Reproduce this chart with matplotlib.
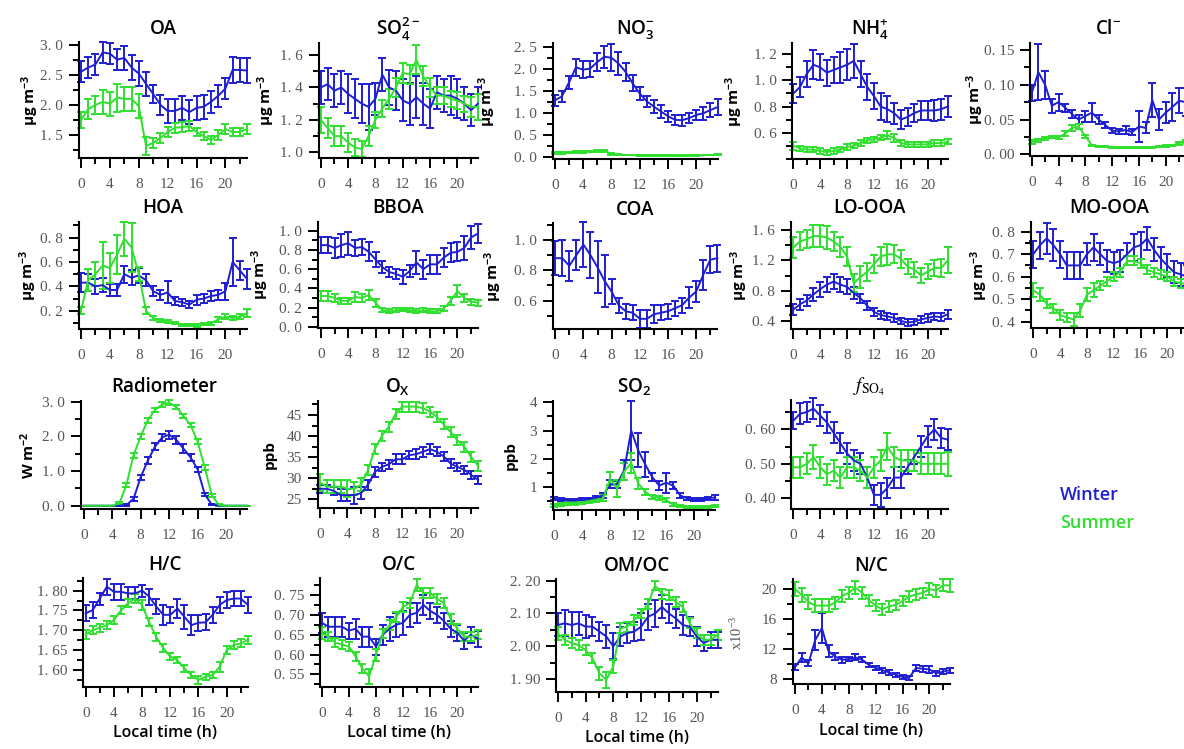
import matplotlib
matplotlib.use('Agg')
import matplotlib.pyplot as plt
from matplotlib.ticker import FixedLocator, AutoMinorLocator, FuncFormatter

hours = list(range(24))

# ---------------- data ----------------
OA_w = [2.55,2.62,2.67,2.87,2.85,2.75,2.78,2.62,2.52,2.35,2.18,2.0,1.9,1.9,1.95,1.88,1.95,1.97,2.05,2.15,2.27,2.58,2.58,2.57]
OA_w_err = [0.17,0.17,0.17,0.17,0.17,0.17,0.2,0.2,0.2,0.2,0.15,0.17,0.2,0.2,0.2,0.2,0.2,0.2,0.18,0.18,0.18,0.22,0.2,0.2]
OA_s = [1.75,1.93,2.0,2.05,2.02,2.12,2.1,2.1,1.98,1.32,1.37,1.45,1.55,1.62,1.63,1.65,1.55,1.48,1.42,1.5,1.6,1.55,1.55,1.6]
OA_s_err = [0.13,0.17,0.15,0.2,0.2,0.23,0.2,0.2,0.2,0.15,0.08,0.08,0.08,0.08,0.08,0.08,0.07,0.07,0.07,0.08,0.08,0.07,0.07,0.08]

SO4_w = [1.40,1.42,1.38,1.40,1.36,1.33,1.30,1.28,1.33,1.48,1.40,1.38,1.32,1.30,1.34,1.30,1.27,1.37,1.35,1.35,1.33,1.30,1.26,1.30]
SO4_w_err = [0.1,0.1,0.1,0.1,0.12,0.12,0.12,0.14,0.1,0.1,0.11,0.12,0.13,0.13,0.13,0.13,0.12,0.1,0.1,0.12,0.12,0.1,0.1,0.1]
SO4_s = [1.20,1.15,1.10,1.10,1.06,1.03,1.02,1.10,1.20,1.27,1.33,1.40,1.49,1.48,1.57,1.47,1.40,1.35,1.35,1.33,1.32,1.30,1.28,1.28]
SO4_s_err = [0.08,0.06,0.06,0.06,0.06,0.05,0.05,0.06,0.05,0.05,0.06,0.06,0.06,0.06,0.09,0.06,0.06,0.05,0.05,0.05,0.05,0.05,0.06,0.08]

NO3_w = [1.28,1.37,1.68,2.03,1.98,2.0,2.15,2.27,2.25,2.12,1.93,1.67,1.44,1.26,1.14,1.03,0.92,0.84,0.83,0.88,0.95,0.99,1.06,1.13]
NO3_w_err = [0.12,0.12,0.15,0.2,0.2,0.18,0.2,0.25,0.3,0.27,0.2,0.18,0.15,0.12,0.15,0.15,0.12,0.12,0.12,0.12,0.12,0.15,0.15,0.18]
NO3_s = [0.08,0.09,0.10,0.11,0.11,0.12,0.13,0.14,0.07,0.05,0.04,0.04,0.03,0.03,0.03,0.03,0.03,0.02,0.02,0.03,0.03,0.04,0.04,0.05]
NO3_s_err = [0.02,0.02,0.02,0.02,0.02,0.02,0.02,0.02,0.02,0.01,0.01,0.01,0.01,0.01,0.01,0.01,0.01,0.01,0.01,0.01,0.01,0.01,0.01,0.01]

NH4_w = [0.90,0.95,1.05,1.12,1.10,1.06,1.08,1.10,1.12,1.15,1.05,0.95,0.88,0.80,0.78,0.75,0.70,0.72,0.75,0.77,0.77,0.77,0.78,0.80]
NH4_w_err = [0.07,0.08,0.1,0.11,0.1,0.1,0.1,0.12,0.12,0.13,0.1,0.1,0.1,0.1,0.1,0.08,0.07,0.07,0.07,0.07,0.07,0.08,0.08,0.08]
NH4_s = [0.50,0.48,0.47,0.47,0.46,0.45,0.46,0.47,0.49,0.50,0.52,0.54,0.55,0.56,0.58,0.56,0.52,0.51,0.51,0.51,0.51,0.52,0.52,0.53]
NH4_s_err = [0.03,0.02,0.02,0.02,0.02,0.02,0.02,0.02,0.02,0.02,0.02,0.02,0.02,0.02,0.03,0.03,0.02,0.02,0.02,0.02,0.02,0.02,0.02,0.02]

Cl_w = [0.088,0.118,0.10,0.07,0.075,0.067,0.058,0.05,0.055,0.06,0.05,0.042,0.034,0.033,0.035,0.032,0.04,0.038,0.078,0.05,0.06,0.068,0.077,0.075]
Cl_w_err = [0.012,0.04,0.02,0.01,0.012,0.006,0.006,0.006,0.008,0.014,0.006,0.004,0.004,0.004,0.006,0.004,0.022,0.008,0.025,0.015,0.015,0.02,0.018,0.02]
Cl_s = [0.018,0.02,0.023,0.025,0.024,0.03,0.038,0.04,0.026,0.013,0.011,0.011,0.01,0.01,0.01,0.01,0.01,0.01,0.01,0.011,0.012,0.013,0.016,0.019]
Cl_s_err = [0.003,0.002,0.002,0.002,0.002,0.003,0.004,0.004,0.002,0.001,0.001,0.001,0.001,0.001,0.001,0.001,0.001,0.001,0.001,0.001,0.001,0.001,0.002,0.002]

HOA_w = [0.43,0.43,0.40,0.41,0.37,0.37,0.50,0.47,0.49,0.45,0.36,0.33,0.35,0.28,0.27,0.25,0.29,0.30,0.32,0.33,0.36,0.60,0.53,0.46]
HOA_w_err = [0.08,0.07,0.06,0.06,0.05,0.05,0.07,0.06,0.06,0.05,0.04,0.04,0.09,0.03,0.03,0.03,0.04,0.04,0.04,0.04,0.07,0.2,0.08,0.08]
HOA_s = [0.20,0.45,0.50,0.57,0.55,0.66,0.79,0.72,0.50,0.20,0.14,0.12,0.11,0.10,0.085,0.085,0.08,0.09,0.095,0.13,0.15,0.14,0.15,0.18]
HOA_s_err = [0.03,0.09,0.1,0.19,0.12,0.16,0.14,0.2,0.06,0.03,0.02,0.01,0.01,0.01,0.01,0.01,0.01,0.01,0.01,0.02,0.02,0.02,0.02,0.03]

BBOA_w = [0.85,0.85,0.82,0.85,0.87,0.82,0.83,0.78,0.70,0.62,0.57,0.55,0.52,0.58,0.67,0.60,0.65,0.65,0.72,0.77,0.78,0.82,0.93,0.97]
BBOA_w_err = [0.08,0.08,0.1,0.12,0.12,0.08,0.08,0.1,0.08,0.06,0.05,0.05,0.07,0.06,0.12,0.1,0.1,0.1,0.1,0.1,0.1,0.12,0.12,0.1]
BBOA_s = [0.32,0.32,0.30,0.27,0.27,0.31,0.30,0.33,0.25,0.17,0.16,0.17,0.18,0.17,0.16,0.17,0.16,0.16,0.19,0.27,0.37,0.30,0.26,0.25]
BBOA_s_err = [0.05,0.05,0.04,0.03,0.03,0.05,0.04,0.05,0.04,0.02,0.02,0.02,0.02,0.02,0.02,0.02,0.02,0.02,0.03,0.04,0.06,0.04,0.03,0.03]

COA_w = [0.88,0.88,0.83,0.90,0.97,0.90,0.82,0.73,0.66,0.57,0.53,0.52,0.48,0.48,0.51,0.52,0.53,0.55,0.57,0.62,0.66,0.77,0.87,0.88]
COA_w_err = [0.11,0.12,0.1,0.1,0.15,0.15,0.17,0.17,0.08,0.05,0.05,0.05,0.06,0.06,0.06,0.05,0.05,0.05,0.05,0.07,0.07,0.1,0.09,0.09]

LO_w = [0.55,0.62,0.67,0.75,0.82,0.88,0.92,0.88,0.85,0.77,0.70,0.60,0.52,0.48,0.46,0.44,0.40,0.38,0.39,0.42,0.44,0.46,0.45,0.49]
LO_w_err = [0.07,0.07,0.07,0.08,0.1,0.1,0.1,0.1,0.1,0.08,0.06,0.06,0.05,0.05,0.05,0.05,0.04,0.04,0.04,0.05,0.05,0.05,0.05,0.06]
LO_s = [1.37,1.45,1.48,1.52,1.52,1.50,1.45,1.38,1.25,0.90,0.98,1.05,1.15,1.25,1.28,1.28,1.22,1.12,1.08,1.00,1.05,1.10,1.10,1.20]
LO_s_err = [0.14,0.12,0.12,0.14,0.15,0.15,0.13,0.13,0.12,0.12,0.14,0.12,0.12,0.12,0.14,0.12,0.12,0.1,0.1,0.1,0.1,0.1,0.12,0.17]

MO_w = [0.70,0.74,0.77,0.74,0.70,0.65,0.65,0.65,0.70,0.73,0.70,0.67,0.66,0.67,0.70,0.73,0.74,0.77,0.72,0.68,0.65,0.62,0.61,0.60]
MO_w_err = [0.06,0.06,0.07,0.07,0.06,0.06,0.06,0.06,0.05,0.06,0.05,0.05,0.05,0.05,0.05,0.06,0.06,0.05,0.05,0.05,0.05,0.05,0.05,0.05]
MO_s = [0.54,0.52,0.48,0.46,0.43,0.42,0.41,0.45,0.52,0.54,0.56,0.58,0.60,0.62,0.67,0.67,0.66,0.63,0.62,0.61,0.60,0.58,0.57,0.57]
MO_s_err = [0.03,0.03,0.02,0.02,0.02,0.02,0.03,0.03,0.03,0.03,0.02,0.02,0.02,0.02,0.02,0.02,0.02,0.02,0.02,0.02,0.02,0.02,0.02,0.02]

RAD_w = [0,0,0,0,0,0,0.02,0.2,0.82,1.3,1.7,1.97,2.05,1.9,1.65,1.4,1.05,0.33,0.03,0,0,0,0,0]
RAD_w_err = [0,0,0,0,0,0,0.02,0.05,0.07,0.1,0.1,0.1,0.12,0.12,0.12,0.1,0.07,0.05,0.02,0,0,0,0,0]
RAD_s = [0,0,0,0,0,0.07,0.6,1.46,2.0,2.47,2.76,2.92,2.97,2.85,2.59,2.33,1.85,1.1,0.3,0.02,0,0,0,0]
RAD_s_err = [0,0,0,0,0,0.03,0.05,0.07,0.07,0.07,0.07,0.07,0.07,0.07,0.07,0.07,0.07,0.07,0.05,0.02,0,0,0,0]

OX_w = [27.5,27.5,27,26,26,26,26.5,28.5,31.5,32.7,33.3,34.5,34.5,35.5,35.7,36.3,36.9,36.3,35.2,33.5,32.7,32,30.8,29.6]
OX_w_err = [1,1,1,1.5,1.5,2,1.5,1.2,1.2,1,1,1.2,1.2,1,1.2,1.2,1.2,1,1,1,1,1,1,1]
OX_s = [29,28,28,28,27.5,27.5,28.5,32,37,40,42.2,45.3,47,47,47,46.6,45.8,44.6,42.8,41,39,37.5,35,33]
OX_s_err = [2,1.5,1.5,1.5,2,1.5,1.5,1.2,1.2,1.2,1.2,1.2,1.2,1.2,1.2,1.2,1.2,1.2,1.2,1.2,1.2,1.2,1.2,1.2]

SO2_w = [0.58,0.55,0.52,0.52,0.55,0.57,0.62,0.70,1.1,1.1,1.6,3.0,2.3,1.8,1.35,1.05,1.15,1.05,0.7,0.6,0.55,0.55,0.6,0.63]
SO2_w_err = [0.05,0.05,0.05,0.05,0.05,0.05,0.05,0.08,0.15,0.12,0.35,1.05,0.6,0.45,0.15,0.15,0.35,0.12,0.1,0.05,0.05,0.05,0.05,0.08]
SO2_s = [0.35,0.38,0.40,0.40,0.43,0.48,0.52,0.60,1.3,0.95,1.55,1.85,1.13,0.83,0.65,0.62,0.54,0.37,0.32,0.30,0.30,0.30,0.30,0.32]
SO2_s_err = [0.05,0.05,0.05,0.05,0.05,0.05,0.06,0.1,0.22,0.3,0.3,0.35,0.2,0.1,0.07,0.07,0.06,0.05,0.04,0.04,0.04,0.04,0.04,0.04]

FSO4_w = [0.625,0.645,0.65,0.66,0.64,0.62,0.59,0.56,0.53,0.51,0.50,0.46,0.41,0.41,0.43,0.46,0.46,0.49,0.52,0.55,0.58,0.60,0.575,0.57]
FSO4_w_err = [0.025,0.03,0.03,0.03,0.03,0.03,0.03,0.03,0.03,0.03,0.03,0.03,0.03,0.035,0.03,0.03,0.03,0.02,0.02,0.03,0.03,0.03,0.03,0.03]
FSO4_s = [0.49,0.49,0.50,0.52,0.49,0.47,0.48,0.46,0.49,0.49,0.48,0.46,0.49,0.51,0.55,0.52,0.51,0.51,0.51,0.50,0.50,0.50,0.50,0.50]
FSO4_s_err = [0.03,0.03,0.03,0.035,0.03,0.03,0.03,0.03,0.03,0.03,0.03,0.03,0.03,0.03,0.04,0.03,0.03,0.03,0.03,0.03,0.03,0.03,0.03,0.035]

HC_w = [1.743,1.751,1.78,1.81,1.797,1.797,1.793,1.793,1.80,1.785,1.76,1.739,1.739,1.755,1.734,1.713,1.719,1.72,1.739,1.764,1.776,1.78,1.78,1.764]
HC_w_err = [0.02,0.02,0.015,0.02,0.02,0.02,0.015,0.015,0.015,0.02,0.02,0.025,0.02,0.025,0.03,0.025,0.02,0.02,0.02,0.02,0.02,0.02,0.02,0.02]
HC_s = [1.69,1.70,1.707,1.713,1.726,1.75,1.768,1.78,1.764,1.72,1.684,1.655,1.634,1.625,1.604,1.587,1.575,1.583,1.587,1.608,1.65,1.663,1.667,1.676]
HC_s_err = [0.012,0.01,0.01,0.01,0.01,0.01,0.01,0.012,0.012,0.01,0.01,0.01,0.008,0.008,0.008,0.008,0.01,0.008,0.008,0.012,0.01,0.01,0.01,0.01]

OC_w = [0.68,0.67,0.67,0.67,0.66,0.665,0.645,0.645,0.62,0.65,0.665,0.675,0.68,0.70,0.705,0.725,0.71,0.70,0.685,0.665,0.655,0.635,0.65,0.64]
OC_w_err = [0.025,0.025,0.025,0.025,0.02,0.025,0.025,0.025,0.02,0.025,0.03,0.03,0.03,0.03,0.025,0.025,0.02,0.02,0.02,0.02,0.02,0.02,0.02,0.02]
OC_s = [0.655,0.645,0.63,0.625,0.62,0.595,0.565,0.545,0.599,0.653,0.674,0.695,0.72,0.73,0.775,0.755,0.755,0.74,0.73,0.69,0.665,0.645,0.645,0.65]
OC_s_err = [0.015,0.012,0.012,0.012,0.012,0.012,0.012,0.018,0.015,0.012,0.012,0.012,0.012,0.012,0.015,0.012,0.012,0.012,0.012,0.012,0.012,0.012,0.012,0.012]

OMOC_w = [2.065,2.07,2.065,2.07,2.06,2.06,2.045,2.03,2.00,2.03,2.04,2.045,2.06,2.09,2.10,2.12,2.10,2.085,2.065,2.06,2.03,2.01,2.02,2.02]
OMOC_w_err = [0.035,0.04,0.04,0.035,0.035,0.03,0.03,0.035,0.04,0.03,0.03,0.03,0.04,0.04,0.04,0.035,0.03,0.03,0.03,0.03,0.03,0.025,0.025,0.025]
OMOC_s = [2.04,2.02,2.01,2.004,1.989,1.964,1.918,1.898,1.939,2.055,2.06,2.08,2.10,2.13,2.185,2.16,2.155,2.135,2.12,2.07,2.04,2.02,2.02,2.035]
OMOC_s_err = [0.02,0.015,0.015,0.015,0.015,0.015,0.02,0.025,0.02,0.015,0.015,0.015,0.015,0.015,0.015,0.015,0.015,0.015,0.015,0.015,0.015,0.015,0.015,0.015]

NC_w = [9.6,10.9,10.1,13.2,14.8,11.7,11.0,10.6,10.7,10.9,10.6,9.9,9.5,9.2,8.9,8.6,8.3,8.2,9.5,9.4,9.3,8.8,9.0,9.2]
NC_w_err = [0.4,0.6,0.4,1.3,2.0,0.8,0.5,0.4,0.3,0.4,0.3,0.3,0.3,0.3,0.3,0.3,0.3,0.3,0.4,0.4,0.5,0.3,0.3,0.3]
NC_s = [20.0,19.2,18.3,17.8,17.8,17.8,18.2,19.1,19.5,20.2,19.5,18.5,17.8,17.3,17.7,17.9,18.4,19.0,19.3,19.5,20.0,19.8,20.5,20.5]
NC_s_err = [0.9,0.9,0.9,0.9,0.9,0.9,0.8,0.8,0.8,0.9,0.8,0.7,0.7,0.7,0.7,0.7,0.7,0.7,0.7,0.7,0.8,0.8,0.8,0.9]

xticks_major = [0, 4, 8, 12, 16, 20]
xticks_minor = [2, 6, 10, 14, 18, 22]

# ---------------- style / layout ----------------
W_PX, H_PX = 1184, 749
BLUE = '#1e1ed2'
GREEN = '#2fe02f'
TICKGRAY = '#555555'
SANS = ['Open Sans', 'DejaVu Sans']
SERIF = ['Liberation Serif', 'DejaVu Serif']
UG = r'μg m$^{-3}$'

plt.rcParams['font.family'] = SERIF
plt.rcParams['mathtext.default'] = 'regular'

fig = plt.figure(figsize=(W_PX / 100, H_PX / 100), dpi=100)

# panel: title, winter, winter err, summer, summer err, ylim, yticks, decimals, ylabel,
#        layout (spine_x, hour0_x, px_per_hour, top_y, bottom_y, ylabel_offset)
panels = [
    ('OA', OA_w, OA_w_err, OA_s, OA_s_err, (1.124, 3.043), [1.5, 2.0, 2.5, 3.0], 1, UG, (79, 81, 7.22, 42, 157.7, 49)),
    ('SO$_4^{2-}$', SO4_w, SO4_w_err, SO4_s, SO4_s_err, (0.963, 1.676), [1.0, 1.2, 1.4, 1.6], 1, UG, (319, 320.8, 6.83, 42.7, 158.3, 53)),
    ('NO$_3^{-}$', NO3_w, NO3_w_err, NO3_s, NO3_s_err, (-0.05, 2.59), [0.0, 0.5, 1.0, 1.5, 2.0, 2.5], 1, UG, (553.3, 554.7, 7.08, 42.7, 159, 66)),
    ('NH$_4^{+}$', NH4_w, NH4_w_err, NH4_s, NH4_s_err, (0.396, 1.289), [0.6, 0.8, 1.0, 1.2], 1, UG, (792.4, 793.3, 6.72, 42.7, 159.3, 58)),
    ('Cl$^{-}$', Cl_w, Cl_w_err, Cl_s, Cl_s_err, (-0.0024, 0.1605), [0.0, 0.05, 0.10, 0.15], 2, UG, (1030, 1031.7, 6.7, 42.7, 156, 55)),
    ('HOA', HOA_w, HOA_w_err, HOA_s, HOA_s_err, (0.05, 0.93), [0.2, 0.4, 0.6, 0.8], 1, UG, (79, 81, 7.22, 221.7, 329, 51)),
    ('BBOA', BBOA_w, BBOA_w_err, BBOA_s, BBOA_s_err, (-0.01, 1.094), [0.0, 0.2, 0.4, 0.6, 0.8, 1.0], 1, UG, (318.3, 321, 6.82, 221.7, 327.7, 58)),
    ('COA', COA_w, COA_w_err, None, None, (0.413, 1.11), [0.6, 0.8, 1.0], 1, UG, (553.3, 555.2, 7.05, 223.3, 329, 60)),
    ('LO-OOA', LO_w, LO_w_err, LO_s, LO_s_err, (0.294, 1.71), [0.4, 0.8, 1.2, 1.6], 1, UG, (791, 793.3, 6.72, 221.7, 329, 52)),
    ('MO-OOA', MO_w, MO_w_err, MO_s, MO_s_err, (0.371, 0.844), [0.4, 0.5, 0.6, 0.7, 0.8], 1, UG, (1030.7, 1033.3, 6.7, 221.7, 328.3, 52)),
    ('Radiometer', RAD_w, RAD_w_err, RAD_s, RAD_s_err, (-0.095, 3.03), [0.0, 1.0, 2.0, 3.0], 1, r'W m$^{-2}$', (81, 83.7, 7.12, 400.7, 509, 53)),
    ('O$_X$', OX_w, OX_w_err, OX_s, OX_s_err, (22.87, 48.4), [25, 30, 35, 40, 45], 0, 'ppb', (317.7, 320, 6.87, 400.7, 508.3, 48)),
    ('SO$_2$', SO2_w, SO2_w_err, SO2_s, SO2_s_err, (0.184, 4.06), [1, 2, 3, 4], 0, 'ppb', (552.9, 554.2, 7.0, 400.7, 510, 42)),
    ('FSO4', FSO4_w, FSO4_w_err, FSO4_s, FSO4_s_err, (0.369, 0.685), [0.40, 0.50, 0.60], 2, None, (791, 793.3, 6.72, 400, 509, 0)),
    ('H/C', HC_w, HC_w_err, HC_s, HC_s_err, (1.558, 1.831), [1.60, 1.65, 1.70, 1.75, 1.80], 2, None, (83, 85.7, 7.05, 578.3, 686.7, 0)),
    ('O/C', OC_w, OC_w_err, OC_s, OC_s_err, (0.519, 0.792), [0.55, 0.60, 0.65, 0.70, 0.75], 2, None, (320, 321.7, 6.78, 578.3, 686.7, 0)),
    ('OM/OC', OMOC_w, OMOC_w_err, OMOC_s, OMOC_s_err, (1.862, 2.204), [1.90, 2.00, 2.10, 2.20], 2, None, (556, 557.7, 6.95, 579.3, 691.7, 0)),
    ('N/C', NC_w, NC_w_err, NC_s, NC_s_err, (7.37, 21.3), [8, 12, 16, 20], 0, None, (792.7, 795, 6.72, 579.3, 684, 0)),
]
bottom_row = {'H/C', 'O/C', 'OM/OC', 'N/C'}
XRIGHT = 23.0


def fx(px):
    return px / W_PX


def fy(py):
    return 1 - py / H_PX


def make_fmt(dec):
    def f(v, pos):
        s = f'{v:.{dec}f}'
        return s.replace('.', '. ')
    return FuncFormatter(f)


def draw_series(ax, y, err, color):
    cont = ax.errorbar(hours, y, yerr=err, color=color, lw=1.4, elinewidth=1.4,
                       capsize=3.2, capthick=1.4)
    for art in [cont[0], *cont[1], *cont[2]]:
        art.set_clip_on(False)


for (title, yw, ew, ys, es, ylim, yt, dec, ylab, lay) in panels:
    L, X0, P, T, B, yoff = lay
    xl = -(X0 - L) / P
    width = (XRIGHT - xl) * P
    ax = fig.add_axes([fx(L), fy(B), width / W_PX, (B - T) / H_PX])
    ax.set_xlim(xl, XRIGHT)
    ax.set_ylim(*ylim)
    for side in ('top', 'right'):
        ax.spines[side].set_visible(False)
    for side in ('left', 'bottom'):
        ax.spines[side].set_linewidth(1.5)
    ax.xaxis.set_major_locator(FixedLocator(xticks_major))
    ax.xaxis.set_minor_locator(FixedLocator(xticks_minor))
    ax.yaxis.set_major_locator(FixedLocator(yt))
    ax.yaxis.set_minor_locator(AutoMinorLocator(2))
    ax.yaxis.set_major_formatter(make_fmt(dec))
    ax.tick_params(which='major', direction='out', length=7, width=1.4,
                   labelsize=11, labelcolor=TICKGRAY)
    ax.tick_params(which='minor', direction='out', length=4, width=1.4)
    ax.tick_params(axis='x', which='major', pad=7.5)
    ax.tick_params(axis='y', which='major', pad=4.5)

    draw_series(ax, yw, ew, BLUE)
    if ys is not None:
        draw_series(ax, ys, es, GREEN)

    if title == 'FSO4':
        ax.set_title(r'$\mathit{f}_{\mathrm{SO_4}}$', math_fontfamily='stix',
                     fontsize=14, pad=6)
    else:
        ax.set_title(title, fontsize=13.5, family=SANS, fontweight='semibold', pad=6)

    if ylab is not None:
        fig.text(fx(L - yoff), fy((T + B) / 2), ylab, rotation=90, ha='center',
                 va='center', fontsize=11, family=SANS, fontweight='bold')

    if title in bottom_row:
        ax.set_xlabel('Local time (h)', fontsize=11.5, family=SANS,
                      fontweight='semibold', labelpad=4)

# x10^-3 multiplier label of the N/C panel
fig.text(fx(737), fy(633), r'x10$^{-3}$', rotation=90, ha='center', va='center',
         fontsize=10.5, color=TICKGRAY, family=SERIF)

# season labels
fig.text(fx(1060), fy(495), 'Winter', color=BLUE, fontsize=13, family=SANS,
         fontweight='semibold', ha='left', va='center')
fig.text(fx(1060), fy(523), 'Summer', color=GREEN, fontsize=13, family=SANS,
         fontweight='semibold', ha='left', va='center')

fig.savefig('out.png', dpi=100)
